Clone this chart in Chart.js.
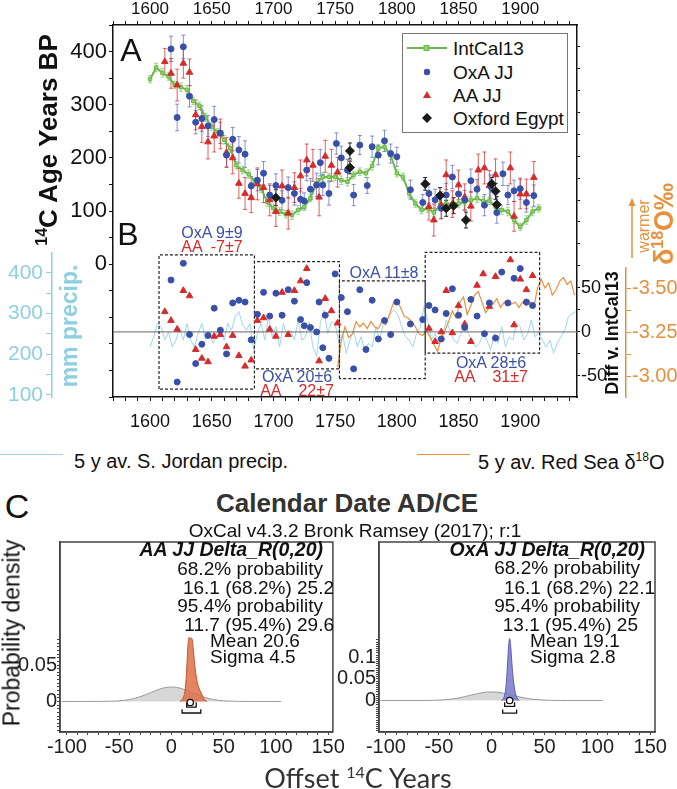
<!DOCTYPE html>
<html>
<head>
<meta charset="utf-8">
<script src="https://cdn.jsdelivr.net/npm/chart.js@4.4.1/dist/chart.umd.min.js"></script>
<style>
body { margin: 0; background: #fff; }
#fig { position: relative; width: 677px; height: 789px; overflow: hidden; font-family: "Liberation Sans", Arial, sans-serif; color: #111; background: #fff; }
canvas { position: absolute; }
.t { position: absolute; white-space: pre; line-height: 1; }
.c { transform: translate(-50%, -50%); }
.rr { transform: translate(-100%, -50%); }
.l { transform: translate(0, -50%); }
.v { transform: translate(-50%, -50%) rotate(-90deg); }
.blue { color: #3d4fa6; }
.red { color: #d42b2b; }
</style>
</head>
<body>
<div id="fig">
  <canvas id="main" width="677" height="440" style="left:0;top:0"></canvas>
  <canvas id="cl" width="345" height="232" style="left:0;top:530px"></canvas>
  <canvas id="cr" width="340" height="232" style="left:330px;top:530px"></canvas>

  <!-- panel A legend -->
  <svg style="position:absolute;left:402px;top:33px" width="166" height="100">
    <rect x="0.5" y="0.5" width="165" height="99" fill="#fff" stroke="#777" stroke-width="1"/>
    <line x1="5" y1="15" x2="45" y2="15" stroke="#6ab84a" stroke-width="2"/>
    <rect x="22" y="12.5" width="5" height="5" fill="#8fd16a" stroke="#6ab84a"/>
    <circle cx="25" cy="39" r="3.2" fill="#3a50a8"/>
    <polygon points="25,58 29,65 21,65" fill="#d62b2b"/>
    <polygon points="25,80 30,85 25,90 20,85" fill="#1a1a1a"/>
  </svg>
  <div class="t l" style="left:453px;top:48px;font-size:19px">IntCal13</div>
  <div class="t l" style="left:453px;top:72px;font-size:19px">OxA JJ</div>
  <div class="t l" style="left:453px;top:95px;font-size:19px">AA JJ</div>
  <div class="t l" style="left:453px;top:118px;font-size:19px">Oxford Egypt</div>

  <div class="t c" style="left:131px;top:50px;font-size:32px">A</div>
  <div class="t c" style="left:128px;top:234px;font-size:32px">B</div>
  <div class="t v" style="left:47px;top:140px;font-size:26px;font-weight:bold"><span style="font-size:16px;vertical-align:10px">14</span>C Age Years BP</div>
  <div class="t v" style="left:69px;top:326px;font-size:23px;font-weight:bold;color:#8ecfe2">mm precip.</div>
  <div class="t v" style="left:612px;top:333px;font-size:18px;font-weight:bold">Diff v. IntCal13</div>
  <div class="t v" style="left:644px;top:226px;font-size:16px;color:#e8913c">warmer</div>
  <svg style="position:absolute;left:626px;top:198px" width="12" height="62">
    <line x1="6" y1="60" x2="6" y2="4" stroke="#e8913c" stroke-width="1.5"/>
    <polygon points="6,0 9.5,8 2.5,8" fill="#e8913c"/>
  </svg>
  <div class="t v" style="left:664px;top:224px;font-size:27px;font-weight:bold;color:#e8913c">δ<span style="font-size:16px;vertical-align:10px">18</span>O‰</div>

  <div class="t c blue" style="left:212px;top:233px;font-size:16px">OxA 9±9</div>
  <div class="t c red" style="left:212px;top:247px;font-size:16px">AA  -7±7</div>
  <div class="t c blue" style="left:297px;top:377px;font-size:16px">OxA 20±6</div>
  <div class="t c red" style="left:297px;top:391px;font-size:16px">AA    22±7</div>
  <div class="t c blue" style="left:384px;top:273px;font-size:16px">OxA 11±8</div>
  <div class="t c blue" style="left:491px;top:363px;font-size:16px">OxA 28±6</div>
  <div class="t c red" style="left:491px;top:377px;font-size:16px">AA    31±7</div>

  <!-- bottom legend -->
  <div style="position:absolute;left:0;top:454px;width:63px;border-top:1px solid #9fd6e8"></div>
  <div class="t l" style="left:74px;top:461px;font-size:20px">5 y av. S. Jordan precip.</div>
  <div style="position:absolute;left:417px;top:454px;width:53px;border-top:1px solid #e8913c"></div>
  <div class="t l" style="left:478px;top:461px;font-size:20px">5 y av. Red Sea δ<span style="font-size:12px;vertical-align:8px">18</span>O</div>

  <div class="t c" style="left:17px;top:506px;font-size:34px">C</div>
  <div class="t c" style="left:347px;top:503px;font-size:26px;font-weight:bold;color:#333">Calendar Date AD/CE</div>
  <div class="t c" style="left:355px;top:530px;font-size:19px">OxCal v4.3.2 Bronk Ramsey (2017); r:1</div>

  <!-- panel C texts -->
  <div class="t rr" style="left:323px;top:550px;font-size:19.5px;font-weight:bold;font-style:italic">AA JJ Delta_R(0,20)</div>
  <div class="t rr" style="left:323px;top:568px;font-size:19px">68.2% probability</div>
  <div class="t rr" style="left:334px;top:587px;font-size:19px">16.1 (68.2%) 25.2</div>
  <div class="t rr" style="left:323px;top:605px;font-size:19px">95.4% probability</div>
  <div class="t rr" style="left:334px;top:624px;font-size:19px">11.7 (95.4%) 29.6</div>
  <div class="t l" style="left:210px;top:640px;font-size:19px">Mean 20.6</div>
  <div class="t l" style="left:210px;top:656px;font-size:19px">Sigma 4.5</div>

  <div class="t rr" style="left:645px;top:550px;font-size:19.5px;font-weight:bold;font-style:italic">OxA JJ Delta_R(0,20)</div>
  <div class="t rr" style="left:640px;top:567px;font-size:19px">68.2% probability</div>
  <div class="t rr" style="left:655px;top:587px;font-size:19px">16.1 (68.2%) 22.1</div>
  <div class="t rr" style="left:640px;top:605px;font-size:19px">95.4% probability</div>
  <div class="t rr" style="left:638px;top:624px;font-size:19px">13.1 (95.4%) 25</div>
  <div class="t l" style="left:530px;top:640px;font-size:19px">Mean 19.1</div>
  <div class="t l" style="left:530px;top:656px;font-size:19px">Sigma 2.8</div>

  <div class="t v" style="left:12px;top:633px;font-size:23px">Probability density</div>
  <div class="t c" style="left:358px;top:777px;font-size:27px;font-family:Lato,'Open Sans',sans-serif;color:#333">Offset <span style="font-size:16px;vertical-align:10px">14</span>C Years</div>
</div>

<script>
// ---- panel A: 14C ages ----
const intcalYear = [1600,1605,1610,1615,1620,1625,1630,1635,1640,1645,1650,1655,1660,1665,1670,1675,1680,1685,1690,1695,1700,1705,1710,1715,1720,1725,1730,1735,1740,1745,1750,1755,1760,1765,1770,1775,1780,1785,1790,1795,1800,1805,1810,1815,1820,1825,1830,1835,1840,1845,1850,1855,1860,1865,1870,1875,1880,1885,1890,1895,1900,1905,1910,1915];
const intcalAge = [348,370,360,353,337,333,328,307,298,276,259,248,234,218,186,177,169,155,142,117,105,99,94,92,102,108,124,152,164,164,164,158,155,168,174,171,185,218,221,205,171,164,133,114,102,105,97,111,114,113,114,117,120,124,119,119,108,102,99,83,70,83,99,105];
const intcalErr = [7,8,8,7,7,8,8,7,7,8,7,7,8,8,7,7,8,7,7,8,8,7,7,8,8,7,7,8,8,7,7,8,8,7,7,8,8,7,8,8,7,7,8,7,7,8,8,7,7,8,8,7,7,8,8,7,7,8,8,7,7,8,8,7];

const oxaYear = [1617,1622,1627,1632,1637,1642,1647,1652,1657,1662,1667,1672,1677,1682,1687,1692,1697,1702,1707,1712,1717,1722,1725,1727,1730,1735,1738,1740,1745,1751,1755,1760,1765,1770,1776,1780,1785,1790,1795,1800,1811,1821,1826,1831,1836,1840,1845,1850,1855,1860,1865,1871,1876,1881,1886,1890,1895,1900,1905,1911];
const oxaAge = [405,276,409,316,267,274,260,272,247,205,235,215,207,147,158,171,130,148,120,144,133,122,119,177,141,149,191,149,133,227,200,177,130,224,148,221,205,232,208,202,140,116,133,121,105,130,164,132,121,157,141,111,146,97,170,130,138,142,116,129];
const oxaErr = [24,25,22,20,22,24,20,25,20,22,22,25,25,18,20,22,18,22,18,20,22,20,15,20,20,22,25,20,22,20,22,20,20,18,15,20,18,20,18,18,18,15,18,20,20,22,22,20,18,22,18,20,22,20,22,18,20,20,18,20];

const aaYear = [1612,1617,1622,1627,1632,1637,1642,1647,1652,1657,1662,1667,1672,1677,1682,1687,1692,1697,1702,1707,1712,1717,1722,1727,1732,1737,1742,1747,1752,1826,1830,1836,1840,1845,1850,1855,1860,1866,1871,1875,1880,1892,1895,1900,1905,1911];
const aaAge = [381,359,337,378,361,281,259,230,241,245,210,200,152,133,125,151,144,121,99,147,96,144,166,196,186,126,203,186,173,108,83,111,168,113,149,126,109,177,181,148,168,181,90,132,132,163];
const aaErr = [25,28,30,28,25,28,30,32,30,28,28,30,28,30,28,30,28,30,28,30,30,28,30,30,30,35,30,30,28,25,30,25,28,25,28,25,28,30,30,28,30,30,28,28,28,30];

const egyYear = [1702,1762,1762,1823,1835,1840,1846,1856,1877,1880,1881];
const egyAge = [125,213,182,151,129,105,110,83,151,137,112];
const egyErr = [15,15,12,12,15,15,15,15,12,15,15];

// ---- panel B: differences from IntCal13 ----
const oxaDiffYear = [1617,1622,1627,1632,1637,1642,1647,1652,1657,1662,1667,1672,1677,1682,1687,1692,1697,1702,1707,1712,1717,1722,1725,1727,1730,1735,1737,1740,1742,1745,1750,1755,1760,1765,1770,1775,1780,1785,1790,1795,1800,1811,1821,1826,1831,1836,1840,1845,1850,1855,1860,1865,1871,1875,1880,1885,1890,1895,1900,1905,1910];
const oxaDiff = [59,-57,78,-3,-36,-14,-4,27,2,-25,33,36,34,-9,20,45,18,44,19,48,35,14,7,56,5,0,34,-18,19,-30,66,39,23,-42,48,-20,36,-8,13,-3,34,9,14,30,25,-8,21,49,19,5,37,18,-2,33,-7,68,33,61,72,34,30];
const aaDiffYear = [1612,1617,1622,1627,1632,1637,1642,1647,1652,1657,1662,1667,1672,1677,1682,1687,1692,1697,1702,1707,1712,1717,1722,1727,1737,1742,1747,1752,1826,1831,1836,1840,1845,1850,1855,1860,1865,1870,1875,1880,1892,1895,1900,1905,1910];
const aaDiff = [23,13,3,47,41,-20,-30,-34,-5,-3,-17,-4,-27,-39,-32,13,16,3,-5,45,-3,47,58,72,-33,38,24,10,4,-11,0,47,-1,30,9,-11,53,66,29,63,82,8,60,48,64];

// period boxes (years and diff extents)
const boxStart = [1607.3,1684.6,1753.5,1823];
const boxEnd = [1684.6,1753.5,1823,1915.7];
const boxLow = [-65,-42,-53,-24];
const boxHigh = [87.5,80,58,90.5];

// 5 y av. S. Jordan precipitation (mm)
const precipYear = [1600,1603,1606,1609,1612,1615,1618,1621,1624,1627,1630,1633,1636,1639,1642,1645,1648,1651,1654,1657,1660,1663,1666,1669,1672,1675,1678,1681,1684,1687,1690,1693,1696,1699,1702,1705,1708,1711,1714,1717,1720,1723,1726,1729,1732,1735,1738,1741,1744,1747,1750,1753,1756,1759,1762,1765,1768,1771,1774,1777,1780,1783,1786,1789,1792,1795,1798,1801,1804,1807,1810,1813,1816,1819,1822,1825,1828,1831,1834,1837,1840,1843,1846,1849,1852,1855,1858,1861,1864,1867,1870,1873,1876,1879,1882,1885,1888,1891,1894,1897,1900,1903,1906,1909,1912,1915,1918,1921,1924,1927,1930,1933,1936,1939,1942,1945];
const precipMm = [218,243,276,268,235,255,218,235,264,235,276,235,218,251,276,235,255,227,251,264,235,276,259,292,305,272,259,276,210,251,276,235,292,243,268,218,276,243,259,235,284,235,243,280,218,194,276,309,251,280,276,227,251,202,235,259,218,243,210,227,218,268,235,276,284,300,309,296,268,243,235,218,251,268,317,284,235,251,227,243,284,259,235,227,251,280,251,235,218,227,251,235,210,251,227,268,218,243,235,276,268,235,251,284,243,255,235,218,235,202,227,243,259,292,300,305];

// 5 y av. Red Sea d18O (permil)
const d18Year = [1752,1755,1758,1761,1764,1767,1770,1773,1776,1779,1782,1785,1788,1791,1794,1797,1800,1803,1806,1809,1812,1815,1818,1821,1824,1827,1830,1833,1836,1839,1842,1845,1848,1851,1854,1857,1860,1863,1866,1869,1872,1875,1878,1881,1884,1887,1890,1893,1896,1899,1902,1905,1908,1911,1914,1917,1920,1923,1926,1929,1932,1935,1938,1941,1944];
const d18Val = [-3.05,-3.20,-3.28,-3.22,-3.24,-3.31,-3.28,-3.30,-3.27,-3.31,-3.28,-3.27,-3.31,-3.29,-3.35,-3.41,-3.43,-3.39,-3.34,-3.33,-3.31,-3.28,-3.24,-3.23,-3.26,-3.22,-3.18,-3.14,-3.22,-3.26,-3.31,-3.37,-3.33,-3.42,-3.45,-3.35,-3.40,-3.46,-3.48,-3.42,-3.36,-3.39,-3.41,-3.44,-3.39,-3.42,-3.40,-3.41,-3.42,-3.39,-3.42,-3.40,-3.42,-3.39,-3.50,-3.55,-3.50,-3.53,-3.46,-3.49,-3.54,-3.56,-3.52,-3.54,-3.46];

// axis tick labels
const yearLabels = [1600,1650,1700,1750,1800,1850,1900];
const diffLabels = [-50,0,50];
const d18Labels = [-3.5,-3.25,-3.0];

// ---- panel C: OxCal densities ----
const priorX = [-105,-95,-85,-75,-65,-55,-45,-40,-35,-30,-25,-20,-15,-10,-5,0,5,10,15,20,25,30,35,40,45,55,65,75,85,95,105];
const priorY = [0,0.00001,0.00002,0.00006,0.00013,0.00045,0.0016,0.0027,0.0043,0.0065,0.0091,0.0121,0.0151,0.0176,0.0193,0.0199,0.0193,0.0176,0.0151,0.0121,0.0091,0.0065,0.0043,0.0027,0.0016,0.00045,0.00013,0.00006,0.00002,0.00001,0];
const aaPostX = [8,10,12,13,14,15,16,17,18,19,20,21,22,23,24,25,26,27,28,29,30,31,32,34];
const aaPostY = [0,0.002,0.008,0.015,0.03,0.055,0.08,0.088,0.086,0.087,0.084,0.07,0.055,0.042,0.032,0.025,0.02,0.016,0.013,0.01,0.007,0.004,0.002,0];
const oxPostX = [9,11,12,13,14,15,16,17,18,19,20,21,22,23,24,26];
const oxPostY = [0,0.004,0.01,0.022,0.045,0.085,0.125,0.143,0.125,0.09,0.06,0.038,0.022,0.012,0.006,0];
const aaMarker = [18, -0.0014];
const aaRange68 = [14.6, 23.7, -0.001, -0.0077];
const aaRange95 = [10.2, 28.1, -0.0108, -0.0158];
const oxMarker = [17, 0];
const oxRange68 = [12.3, 21.7, -0.004, -0.0136];
const oxRange95 = [10.4, 23.6, -0.021, -0.0289];

const FONT = '"Liberation Sans", Arial, sans-serif';
const BLUE = '#3a50a8', RED = '#d62b2b', GREEN = '#6ab84a', ORANGE = '#e8913c', PRECIP = '#8ecfe2';

const pts = (xs, ys) => xs.map((x, i) => ({x: x, y: ys[i]}));
const near = (v, list) => list.some(t => Math.abs(v - t) < 1e-6);

const errorBars = {
  id: 'errorBars',
  beforeDatasetsDraw(chart) {
    const ctx = chart.ctx, a = chart.chartArea;
    ctx.save();
    ctx.beginPath();
    ctx.rect(a.left, a.top, a.right - a.left, a.bottom - a.top);
    ctx.clip();
    chart.data.datasets.forEach((ds, i) => {
      if (!ds.errors) return;
      const meta = chart.getDatasetMeta(i);
      const xs = chart.scales[meta.xAxisID], ys = chart.scales[meta.yAxisID];
      ctx.strokeStyle = ds.errorColor;
      ctx.lineWidth = 1;
      ds.data.forEach((p, j) => {
        const x = xs.getPixelForValue(p.x);
        const y1 = ys.getPixelForValue(p.y - ds.errors[j]);
        const y2 = ys.getPixelForValue(p.y + ds.errors[j]);
        ctx.beginPath();
        ctx.moveTo(x, y1); ctx.lineTo(x, y2);
        ctx.moveTo(x - 2, y1); ctx.lineTo(x + 2, y1);
        ctx.moveTo(x - 2, y2); ctx.lineTo(x + 2, y2);
        ctx.stroke();
      });
    });
    ctx.restore();
  }
};

const frame = {
  id: 'frame',
  afterDraw(chart) {
    const ctx = chart.ctx, a = chart.chartArea;
    ctx.save();
    ctx.strokeStyle = '#444';
    ctx.lineWidth = 1.5;
    ctx.strokeRect(a.left, a.top, a.right - a.left, a.bottom - a.top);
    ctx.restore();
  }
};

function boxData() {
  const out = [];
  boxStart.forEach((x0, i) => {
    const x1 = boxEnd[i], lo = boxLow[i], hi = boxHigh[i];
    out.push({x: x0, y: lo}, {x: x0, y: hi}, {x: x1, y: hi}, {x: x1, y: lo}, {x: x0, y: lo}, {x: x1, y: null});
  });
  return out;
}

const hiddenAxis = (position, stack, weight, width) => ({
  type: 'linear', position: position, stack: stack, stackWeight: weight,
  ticks: {display: false}, grid: {display: false}, border: {display: false},
  afterFit: s => { s.width = width; }
});

new Chart(document.getElementById('main'), {
  type: 'scatter',
  data: {
    datasets: [
      {label: 'Oxford Egypt', data: pts(egyYear, egyAge), errors: egyErr, errorColor: '#222',
       xAxisID: 'x', yAxisID: 'y', pointStyle: 'rectRot', pointRadius: 4.5, backgroundColor: '#1a1a1a', borderColor: '#1a1a1a', order: 0},
      {label: 'OxA JJ', data: pts(oxaYear, oxaAge), errors: oxaErr, errorColor: 'rgba(90,110,190,0.75)',
       xAxisID: 'x', yAxisID: 'y', pointStyle: 'circle', pointRadius: 3, backgroundColor: BLUE, borderColor: BLUE, order: 1},
      {label: 'AA JJ', data: pts(aaYear, aaAge), errors: aaErr, errorColor: 'rgba(214,43,43,0.75)',
       xAxisID: 'x', yAxisID: 'y', pointStyle: 'triangle', pointRadius: 3.8, backgroundColor: RED, borderColor: RED, order: 2},
      {label: 'IntCal13', data: pts(intcalYear, intcalAge), errors: intcalErr, errorColor: 'rgba(106,184,74,0.6)',
       xAxisID: 'x', yAxisID: 'y', showLine: true, borderColor: GREEN, borderWidth: 2,
       pointStyle: 'rect', pointRadius: 2.4, pointBackgroundColor: '#8fd16a', pointBorderColor: GREEN, pointBorderWidth: 1, order: 3},
      {label: 'OxA diff', data: pts(oxaDiffYear, oxaDiff), xAxisID: 'x', yAxisID: 'yDiff',
       pointStyle: 'circle', pointRadius: 3, backgroundColor: BLUE, borderColor: BLUE, order: 1},
      {label: 'AA diff', data: pts(aaDiffYear, aaDiff), xAxisID: 'x', yAxisID: 'yDiff',
       pointStyle: 'triangle', pointRadius: 3.8, backgroundColor: RED, borderColor: RED, order: 2},
      {label: 'periods', data: boxData(), xAxisID: 'x', yAxisID: 'yDiff', showLine: true, spanGaps: false,
       borderColor: '#222', borderWidth: 1.2, borderDash: [3, 2], pointRadius: 0, order: 5},
      {label: 'zero', data: [{x: 1570, y: 0}, {x: 1946, y: 0}], xAxisID: 'x', yAxisID: 'yDiff', showLine: true,
       borderColor: '#666', borderWidth: 1, pointRadius: 0, order: 6},
      {label: 'Red Sea d18O', data: pts(d18Year, d18Val), xAxisID: 'x', yAxisID: 'd18', showLine: true,
       borderColor: ORANGE, borderWidth: 1.2, pointRadius: 0, order: 7},
      {label: 'S. Jordan precip', data: pts(precipYear, precipMm), xAxisID: 'x', yAxisID: 'precip', showLine: true,
       borderColor: '#9fd6e8', borderWidth: 1, pointRadius: 0, order: 8}
    ]
  },
  options: {
    responsive: false, animation: false, devicePixelRatio: 1,
    layout: {padding: 0},
    plugins: {legend: {display: false}, tooltip: {enabled: false}},
    scales: {
      x: {
        type: 'linear', position: 'bottom', min: 1570, max: 1946,
        border: {color: '#111', width: 1.5},
        grid: {drawOnChartArea: false, tickLength: 4, color: '#111'},
        ticks: {stepSize: 10, autoSkip: false, maxRotation: 0, includeBounds: false, padding: 10, color: '#111',
                font: {family: FONT, size: 18}, callback: v => near(v, yearLabels) ? String(v) : ''},
        afterFit: s => { s.height = 43; }
      },
      xTop: {
        type: 'linear', position: 'top', min: 1570, max: 1946,
        border: {color: '#111', width: 1.5},
        grid: {drawOnChartArea: false, tickLength: 4, color: '#111'},
        ticks: {stepSize: 10, autoSkip: false, maxRotation: 0, includeBounds: false, padding: 1, color: '#111',
                font: {family: FONT, size: 17}, callback: v => near(v, yearLabels) ? String(v) : ''},
        afterFit: s => { s.height = 25; }
      },
      y: {
        type: 'linear', position: 'left', min: -250, max: 450,
        border: {color: '#111', width: 1.5},
        grid: {drawOnChartArea: false, tickLength: 4, color: '#111'},
        ticks: {stepSize: 50, autoSkip: false, includeBounds: false, padding: 2, color: '#111',
                font: {family: FONT, size: 22}, callback: v => (v >= 0 && v % 100 === 0) ? String(v) : ''},
        afterFit: s => { s.width = 61; }
      },
      precip: {
        type: 'linear', position: 'left', stack: 'pl', stackWeight: 144, min: 95, max: 449,
        border: {color: PRECIP, width: 1.5},
        grid: {drawOnChartArea: false, tickLength: 6, color: PRECIP},
        ticks: {stepSize: 50, autoSkip: false, includeBounds: false, padding: 3, color: PRECIP,
                font: {family: FONT, size: 21}, callback: v => v % 100 === 0 ? String(v) : ''},
        afterFit: s => { s.width = 52; }
      },
      pDummy: hiddenAxis('left', 'pl', 228, 52),
      yDiff: {
        type: 'linear', position: 'right', min: -74, max: 349,
        border: {color: '#111', width: 1.5},
        grid: {drawOnChartArea: false, tickLength: 3, color: '#111'},
        ticks: {stepSize: 25, autoSkip: false, includeBounds: false, padding: 1, color: '#111',
                font: {family: FONT, size: 18}, callback: v => near(v, diffLabels) ? String(v) : ''},
        afterFit: s => { s.width = 49; }
      },
      dDummy: hiddenAxis('right', 'dr', 243, 51),
      d18: {
        type: 'linear', position: 'right', stack: 'dr', stackWeight: 129, min: -3.614, max: -2.881, reverse: true,
        border: {color: ORANGE, width: 1.5},
        grid: {drawOnChartArea: false, tickLength: 5, color: ORANGE},
        ticks: {stepSize: 0.125, autoSkip: false, includeBounds: false, padding: 1, color: ORANGE,
                font: {family: FONT, size: 20}, callback: v => near(v, d18Labels) ? v.toFixed(2) : ''},
        afterFit: s => { s.width = 51; }
      }
    }
  },
  plugins: [errorBars]
});

function bracket(r) {
  return [{x: r[0], y: r[2]}, {x: r[0], y: r[3]}, {x: r[1], y: r[3]}, {x: r[1], y: r[2]}];
}

function densityChart(id, post, postColor, postBorder, marker, r68, r95, yMin, yMax, rulerTop, labels, yWidth, padRight) {
  return new Chart(document.getElementById(id), {
    type: 'scatter',
    data: {
      datasets: [
        {data: [{x: marker[0], y: marker[1]}], pointRadius: 3.2, backgroundColor: '#fff', borderColor: '#111', borderWidth: 1.3, order: 0},
        {data: bracket(r68), showLine: true, borderColor: '#111', borderWidth: 1.3, pointRadius: 0, order: 1},
        {data: bracket(r95), showLine: true, borderColor: '#111', borderWidth: 1.3, pointRadius: 0, order: 1},
        {data: post, showLine: true, fill: 'origin', backgroundColor: postColor, borderColor: postBorder, borderWidth: 1,
         pointRadius: 0, tension: 0.3, cubicInterpolationMode: 'monotone', order: 2},
        {data: pts(priorX, priorY), showLine: true, fill: 'origin', backgroundColor: 'rgba(175,175,175,0.5)', borderColor: '#9a9a9a',
         borderWidth: 1, pointRadius: 0, tension: 0.3, cubicInterpolationMode: 'monotone', order: 3}
      ]
    },
    options: {
      responsive: false, animation: false, devicePixelRatio: 1,
      layout: {padding: {top: 9, right: padRight, left: 0, bottom: 0}},
      plugins: {legend: {display: false}, tooltip: {enabled: false}},
      scales: {
        x: {
          type: 'linear', min: -106.6, max: 154.5,
          border: {color: '#444', width: 1.5},
          grid: {drawOnChartArea: false, tickLength: 3, color: '#444'},
          ticks: {stepSize: 10, autoSkip: false, maxRotation: 0, includeBounds: false, padding: 0, color: '#222',
                  font: {family: FONT, size: 20}, callback: v => v % 50 === 0 ? String(v) : ''},
          afterFit: s => { s.height = 30; }
        },
        y: {
          type: 'linear', min: yMin, max: yMax,
          border: {color: '#444', width: 1.5},
          grid: {drawOnChartArea: false, tickLength: 3, color: '#444'},
          ticks: {stepSize: 0.005, autoSkip: false, includeBounds: false, padding: 0, color: '#222',
                  font: {family: FONT, size: 20}, callback: v => {
                    const hit = labels.find(t => Math.abs(v - t) < 1e-9);
                    return hit === undefined ? '' : String(hit);
                  }},
          afterBuildTicks: s => { s.ticks = s.ticks.filter(t => t.value <= rulerTop && t.value >= yMin); },
          afterFit: s => { s.width = yWidth; }
        }
      }
    },
    plugins: [frame]
  });
}

densityChart('cl', pts(aaPostX, aaPostY), 'rgba(222,112,72,0.85)', '#c0552f', aaMarker, aaRange68, aaRange95,
  -0.0419, 0.2189, 0.086, [0, 0.05], 60, 8);
densityChart('cr', pts(oxPostX, oxPostY), 'rgba(120,120,205,0.85)', '#5a5ab0', oxMarker, oxRange68, oxRange95,
  -0.0727, 0.366, 0.142, [0, 0.05, 0.1], 49, 15);
</script>
</body>
</html>
